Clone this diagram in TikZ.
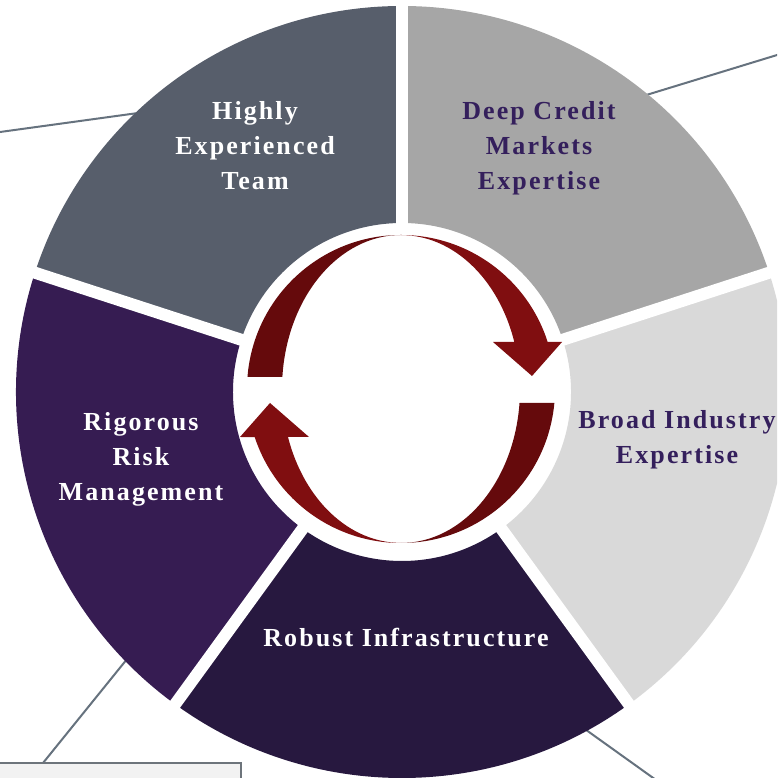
\documentclass[tikz,border=0pt]{standalone}
\usepackage{fontspec}
\newfontfamily\lab{Liberation Serif}[LetterSpace=8]
\definecolor{segTL}{HTML}{575E6B}
\definecolor{segTR}{HTML}{A6A6A6}
\definecolor{segR}{HTML}{D9D9D9}
\definecolor{segB}{HTML}{27183F}
\definecolor{segL}{HTML}{361C52}
\definecolor{txtP}{HTML}{341F5C}
\definecolor{arrDark}{HTML}{650A0C}
\definecolor{arrLight}{HTML}{800E10}
\definecolor{leader}{HTML}{66727E}
\definecolor{boxFill}{HTML}{F2F2F2}
\definecolor{boxLine}{HTML}{6D747B}
\tikzset{
  lbl/.style={font=\lab\bfseries\fontsize{26}{35}\selectfont, align=center, inner sep=0pt},
  lblW/.style={lbl, text=white},
  lblP/.style={lbl, text=txtP},
  leaderline/.style={draw=leader, line width=2pt},
  gapline/.style={draw=white, line width=12pt},
}
\begin{document}
\begin{tikzpicture}[x=1pt,y=1pt]
\useasboundingbox (0,0) rectangle (777,778);
\clip (0,0) rectangle (777,778);
% leader line end points
\coordinate (tlA) at (-5,645.3);
\coordinate (tlB) at (160,668);
\coordinate (trA) at (630,678);
\coordinate (trB) at (800,730);
\coordinate (blA) at (140,135);
\coordinate (blB) at (43,15);
\coordinate (brA) at (575,56);
\coordinate (brB) at (670,-12);
\draw[leaderline] (tlA) -- (tlB);
\draw[leaderline] (trA) -- (trB);
\draw[leaderline] (blA) -- (blB);
\draw[leaderline] (brA) -- (brB);
% note box
\draw[fill=boxFill, draw=boxLine, line width=2pt] (-5,-20) rectangle (241,15);
% donut segments
\begin{scope}[shift={(402,386)}]
\foreach \a/\b/\c in {90/162/segTL, 18/90/segTR, -54/18/segR, -126/-54/segB, 162/234/segL}
  \fill[fill=\c] (\a:386) arc[start angle=\a, end angle=\b, radius=386]
     -- (\b:169) arc[start angle=\b, end angle=\a, radius=169] -- cycle;
\foreach \a in {90,18,-54,-126,162}
  \draw[gapline] (\a:160) -- (\a:400);
\end{scope}
% cycle arrows
\begin{scope}[shift={(401,389)}]
\fill[arrDark] (175.5:154) arc[start angle=175.5, end angle=90, radius=154]
   arc[start angle=90, end angle=175.5, x radius=119, y radius=154] -- cycle;
\fill[arrLight] (0,154) arc[start angle=90, end angle=17.8, radius=154]
   -- (161,47) -- (131,13) -- (92,47) -- (113.3,47)
   arc[start angle=17.8, end angle=90, x radius=119, y radius=154] -- cycle;
\fill[arrDark] (-5.2:154) arc[start angle=-5.2, end angle=-90, radius=154]
   arc[start angle=-90, end angle=-5.2, x radius=119, y radius=154] -- cycle;
\fill[arrLight] (0,-154) arc[start angle=270, end angle=198.2, radius=154]
   -- (-161,-48) -- (-131,-14) -- (-92,-48) -- (-113,-48)
   arc[start angle=198.2, end angle=270, x radius=119, y radius=154] -- cycle;
\end{scope}
% labels
\node[lblW] (tHigh) at (255,632.5) {Highly\\Experienced\\Team};
\node[lblP] (tDeep) at (539,630) {Deep Credit\\Markets\\Expertise};
\node[lblP] (tBroad) at (677,338) {Broad Industry\\Expertise};
\node[lblW] (tRobust) at (406,140) {Robust Infrastructure};
\node[lblW] (tRig) at (141,319) {Rigorous\\Risk\\Management};
\end{tikzpicture}
\end{document}
